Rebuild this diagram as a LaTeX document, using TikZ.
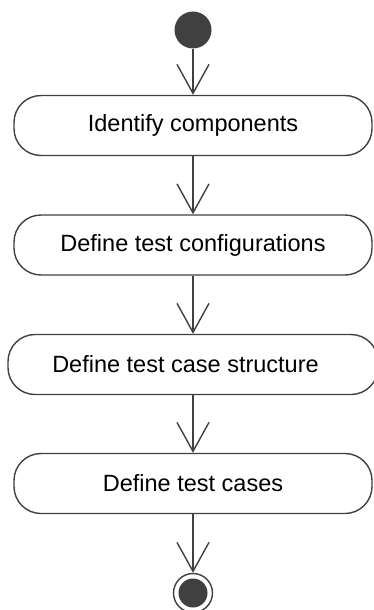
\documentclass[tikz,border=0pt]{standalone}
\usepackage{fontspec}
\setmainfont{Liberation Sans}
\usetikzlibrary{arrows.meta}
\definecolor{umlgray}{RGB}{64,64,64}
\begin{document}
\begin{tikzpicture}[x=1pt, y=-1pt,
    every node/.style={align=center, font=\fontsize{23.5}{28}\selectfont},
    action/.style={draw=umlgray, line width=1.4pt, rounded corners=27pt,
      minimum width=358pt, minimum height=60pt, inner sep=0pt},
    initial/.style={circle, fill=umlgray, minimum size=37pt, inner sep=0pt},
    final/.style={circle, draw=umlgray, line width=1.4pt, minimum size=39pt, inner sep=0pt,
      path picture={\fill[umlgray] (path picture bounding box.center) circle (14.5pt);}},
    flow/.style={draw=umlgray, line width=1.4pt, -{Straight Barb[length=29pt, width=32pt]}}]
  \useasboundingbox (0,0) rectangle (374,610);
  \node[initial] (start) at (193,30){};
  \node[action] (comp) at (193,125.5){Identify components};
  \node[action] (conf) at (193,245){Define test configurations};
  \node[action, minimum width=370pt] (struct) at (193,364.5){Define test case structure\hspace*{15pt}};
  \node[action] (cases) at (193,483.5){Define test cases};
  \node[final] (end) at (193,593){};
  \draw[flow] (start) -- (comp);
  \draw[flow] (comp) -- (conf);
  \draw[flow] (conf) -- (struct);
  \draw[flow] (struct) -- (cases);
  \draw[flow] (cases) -- (end);
\end{tikzpicture}
\end{document}
